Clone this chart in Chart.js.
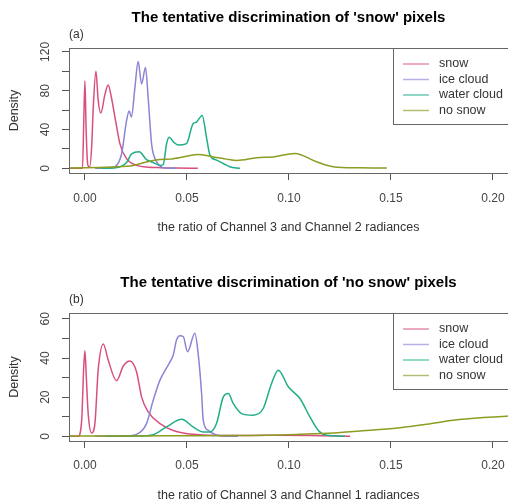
<!DOCTYPE html>
<html>
<head>
<meta charset="utf-8">
<script src="https://cdn.jsdelivr.net/npm/chart.js@4"></script>
<style>
  html, body { margin: 0; padding: 0; background: #fff; }
  canvas { display: block; }
</style>
</head>
<body>
<canvas id="chartA" width="508" height="252"></canvas>
<canvas id="chartB" width="508" height="252"></canvas>
<script>
var seriesNames = ['snow', 'ice cloud', 'water cloud', 'no snow']
var seriesColors = ['#d9507f', '#8c84d6', '#1fae88', '#8d9c22']
var xTickLabels = ['0.00', '0.05', '0.10', '0.15', '0.20']

/* (a) ratio of channel 3 and channel 2 */
var snowA_x = [-0.0078, -0.0012, -0.0006, 0.0, 0.0006, 0.0012, 0.0018, 0.0024, 0.0033, 0.0041, 0.0054, 0.0065, 0.0078, 0.0098, 0.0114, 0.013, 0.0147, 0.0172, 0.0204, 0.0253, 0.030, 0.037, 0.045, 0.0554]
var snowA_y = [0, 0, 45, 90, 40, 8, 2, 2, 22, 63, 100, 70, 57, 76, 86, 73, 53, 25, 10, 3, 1.5, 0.7, 0.3, 0]
var iceA_x = [0.005, 0.012, 0.0147, 0.018, 0.0204, 0.0217, 0.0228, 0.0245, 0.0261, 0.0278, 0.0297, 0.031, 0.0327, 0.0351, 0.0375, 0.040, 0.045]
var iceA_y = [0, 0.3, 1.5, 15, 49, 59, 53, 83, 110, 87, 104, 73, 25, 7, 1.5, 0.3, 0]
var waterA_x = [0.008, 0.015, 0.0204, 0.0229, 0.0266, 0.0302, 0.0335, 0.0368, 0.0384, 0.040, 0.0413, 0.0435, 0.0457, 0.0498, 0.053, 0.0546, 0.0575, 0.0596, 0.0613, 0.0645, 0.0678, 0.071, 0.076]
var waterA_y = [0, 0.5, 6, 15, 17, 9, 6, 3, 4, 25, 32, 27, 24, 25.5, 46, 47.5, 54.5, 32, 13.6, 8.5, 5, 1.7, 0]
var nosnowA_x = [-0.0078, 0.0, 0.0131, 0.0237, 0.0302, 0.0368, 0.0417, 0.0498, 0.0555, 0.0625, 0.0694, 0.0745, 0.0842, 0.0923, 0.103, 0.1135, 0.1217, 0.1348, 0.148]
var nosnowA_y = [0.3, 0.5, 1.5, 3, 6.5, 9, 9.5, 12.5, 14.3, 12, 9.5, 8.2, 11, 11.8, 15.3, 6.8, 1.7, 0.5, 0.3]

/* (b) ratio of channel 3 and channel 1 */
var snowB_x = [-0.0078, -0.0033, -0.0016, -0.0006, 0.0, 0.0007, 0.0016, 0.0033, 0.0049, 0.0065, 0.009, 0.0114, 0.0155, 0.0188, 0.0221, 0.0253, 0.0278, 0.031, 0.0368, 0.0433, 0.053, 0.07, 0.09, 0.11, 0.13]
var snowB_y = [0, 0, 8, 35, 43.7, 30, 11.6, 1.7, 6.5, 33.8, 47.2, 39, 28.4, 35.9, 38.5, 33, 20, 12.5, 6.5, 3, 1, 0.4, 0.5, 0.4, 0]
var iceB_x = [0.005, 0.02, 0.0253, 0.0302, 0.0335, 0.0368, 0.0417, 0.0433, 0.0449, 0.0466, 0.0482, 0.0503, 0.0539, 0.0555, 0.0572, 0.058, 0.0605, 0.066, 0.075]
var iceB_y = [0, 0.2, 1, 6.5, 18.5, 28.7, 38, 41.5, 49.2, 51.4, 51, 43.2, 52.6, 42.4, 21.9, 8.2, 3, 0.3, 0]
var waterB_x = [0.01, 0.03, 0.0335, 0.04, 0.0474, 0.053, 0.058, 0.0613, 0.0645, 0.0678, 0.0703, 0.0727, 0.0768, 0.0825, 0.0874, 0.0915, 0.0948, 0.0997, 0.1054, 0.1103, 0.1144, 0.1185, 0.1275]
var waterB_y = [0, 0.3, 0.8, 4.8, 8.7, 4.8, 2.2, 2.2, 6.5, 20, 21.9, 16.8, 11.6, 10.8, 14.2, 27, 33.8, 25.3, 19.3, 9.9, 3, 0.5, 0]
var nosnowB_x = [-0.0078, 0.02, 0.05, 0.075, 0.089, 0.105, 0.1217, 0.138, 0.1544, 0.1675, 0.1806, 0.1953, 0.2067, 0.215]
var nosnowB_y = [0.2, 0.2, 0.3, 0.4, 0.5, 1, 1.7, 3, 4.4, 6.1, 8.2, 9.6, 10.3, 10.6]

var yLabelsA = [0, 40, 80, 120]
var yLabelsB = [0, 20, 40, 60]

var FONT = '"Liberation Sans", Arial, sans-serif'

function pts(xs, ys) {
  return xs.map(function (x, i) { return { x: x, y: ys[i] } })
}

/* box round the plot region, right side runs off the picture */
var plotBox = {
  id: 'plotBox',
  afterDatasetsDraw(chart) {
    var a = chart.chartArea, ctx = chart.ctx
    ctx.save()
    ctx.strokeStyle = '#666'
    ctx.lineWidth = 1
    ctx.strokeRect(a.left + 0.5, a.top + 0.5, a.right - a.left + 10, a.bottom - a.top)
    ctx.restore()
  }
}

/* R style vertical tick labels on the y axis */
var yTickText = {
  id: 'yTickText',
  afterDraw(chart, args, opts) {
    var s = chart.scales.y, ctx = chart.ctx
    ctx.save()
    ctx.font = '12px ' + FONT
    ctx.fillStyle = '#444'
    ctx.textAlign = 'center'
    ctx.textBaseline = 'middle'
    opts.labels.forEach(function (v) {
      ctx.save()
      ctx.translate(s.right - 23, s.getPixelForValue(v))
      ctx.rotate(-Math.PI / 2)
      ctx.fillText(String(v), 0, 0)
      ctx.restore()
    })
    ctx.restore()
  }
}

/* boxed legend in the top right corner */
var legendBox = {
  id: 'legendBox',
  afterDraw(chart) {
    var a = chart.chartArea, ctx = chart.ctx
    var left = a.left + 324, top = a.top
    ctx.save()
    ctx.fillStyle = '#fff'
    ctx.fillRect(left, top, chart.width, 76)
    ctx.strokeStyle = '#666'
    ctx.lineWidth = 1
    ctx.strokeRect(left + 0.5, top + 0.5, chart.width, 76)
    ctx.font = '12.5px ' + FONT
    ctx.textBaseline = 'middle'
    chart.data.datasets.forEach(function (ds, i) {
      var y = top + 16 + i * 15.5
      ctx.globalAlpha = 0.65
      ctx.strokeStyle = ds.borderColor
      ctx.lineWidth = 1.5
      ctx.beginPath()
      ctx.moveTo(left + 10, y)
      ctx.lineTo(left + 36, y)
      ctx.stroke()
      ctx.globalAlpha = 1
      ctx.fillStyle = '#333'
      ctx.fillText(ds.label, left + 46, y)
    })
    ctx.restore()
  }
}

function makeChart(id, c) {
  var datasets = c.series.map(function (d, i) {
    return {
      label: seriesNames[i],
      data: d,
      borderColor: seriesColors[i],
      borderWidth: 1.5,
      pointRadius: 0,
      fill: false,
      cubicInterpolationMode: 'monotone',
      order: 4 - i
    }
  })
  return new Chart(document.getElementById(id), {
    type: 'line',
    data: { datasets: datasets },
    plugins: [plotBox, yTickText, legendBox],
    options: {
      responsive: false,
      animation: false,
      layout: { padding: 0 },
      plugins: {
        legend: { display: false },
        tooltip: { enabled: false },
        title: {
          display: true, text: c.title, fullSize: false, color: '#000',
          font: { family: FONT, size: 15, weight: 'bold' },
          padding: { top: c.titleTop, bottom: 0 }
        },
        subtitle: {
          display: true, text: c.tag, align: 'start', fullSize: false, color: '#333',
          font: { family: FONT, size: 12 },
          padding: { top: 0, bottom: 6.6 }
        },
        yTickText: { labels: c.yLabels }
      },
      scales: {
        x: {
          type: 'linear', min: -0.0078, max: 0.2074,
          border: { display: false },
          grid: { drawOnChartArea: false, tickLength: 7, color: '#555' },
          ticks: {
            stepSize: 0.05, includeBounds: false, autoSkip: false, maxRotation: 0,
            color: '#444', font: { family: FONT, size: 12 }, padding: c.xPad,
            callback: function (v, i) { return xTickLabels[i] }
          },
          title: {
            display: true, text: c.xTitle, color: '#333',
            font: { family: FONT, size: 12.5 },
            padding: { top: 0, bottom: c.xTitleBottom }
          },
          afterFit: function (s) {
            s.height = c.xHeight
            s.paddingLeft = 0
            s.paddingRight = 0
          }
        },
        y: {
          min: c.yMin, max: c.yMax,
          border: { display: false },
          grid: { drawOnChartArea: false, tickLength: 7, color: '#555' },
          ticks: { stepSize: c.yStep, includeBounds: false, display: false },
          title: {
            display: true, text: 'Density', color: '#333',
            font: { family: FONT, size: 12.5 },
            padding: { top: 7.5, bottom: 0 }
          },
          afterFit: function (s) {
            s.width = 69
            s.paddingTop = 0
            s.paddingBottom = 0
          }
        }
      }
    }
  })
}

makeChart('chartA', {
  title: "The tentative discrimination of 'snow' pixels",
  tag: '(a)',
  titleTop: 9,
  xTitle: 'the ratio of Channel 3 and Channel 2 radiances',
  xPad: 11, xTitleBottom: 17, xHeight: 79,
  yMin: -4.8, yMax: 124, yStep: 20, yLabels: yLabelsA,
  series: [pts(snowA_x, snowA_y), pts(iceA_x, iceA_y), pts(waterA_x, waterA_y), pts(nosnowA_x, nosnowA_y)]
})

makeChart('chartB', {
  title: "The tentative discrimination of 'no snow' pixels",
  tag: '(b)',
  titleTop: 22,
  xTitle: 'the ratio of Channel 3 and Channel 1 radiances',
  xPad: 10, xTitleBottom: 0.5, xHeight: 63,
  yMin: -2.4, yMax: 63, yStep: 10, yLabels: yLabelsB,
  series: [pts(snowB_x, snowB_y), pts(iceB_x, iceB_y), pts(waterB_x, waterB_y), pts(nosnowB_x, nosnowB_y)]
})
</script>
</body>
</html>
